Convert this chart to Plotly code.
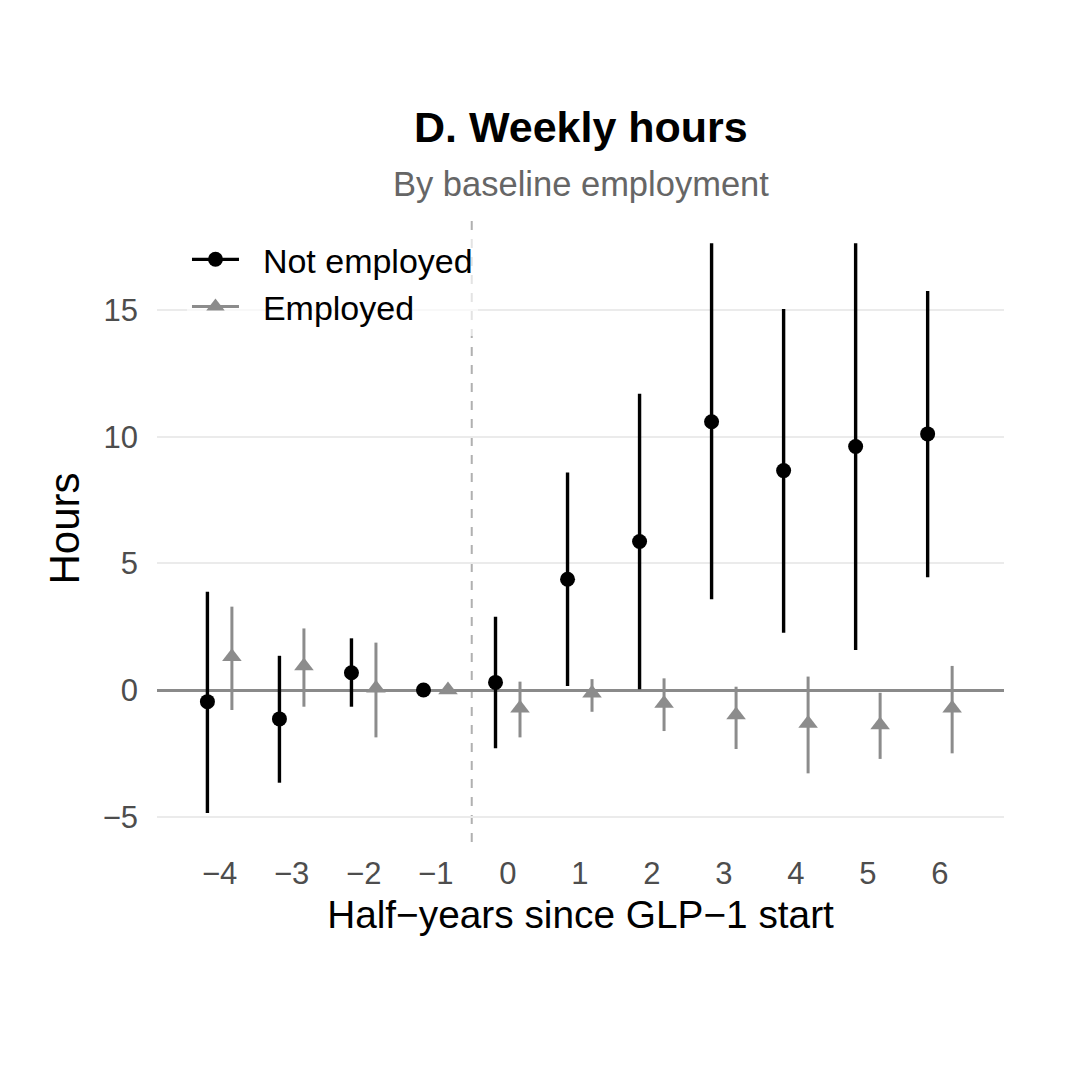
import numpy as np
import plotly.graph_objects as go

# Event-study estimates, weekly hours, by baseline employment
periods = [-4, -3, -2, -1, 0, 1, 2, 3, 4, 5, 6]

not_emp_est = [-0.46, -1.14, 0.68, 0.0, 0.30, 4.37, 5.86, 10.59, 8.66, 9.61, 10.11]
not_emp_lo = [-4.86, -3.66, -0.66, 0.0, -2.30, 0.16, 0.03, 3.58, 2.26, 1.58, 4.45]
not_emp_hi = [3.88, 1.35, 2.04, 0.0, 2.89, 8.59, 11.69, 17.63, 15.04, 17.63, 15.75]

emp_est = [1.31, 0.95, 0.07, 0.0, -0.72, -0.13, -0.53, -0.99, -1.32, -1.38, -0.72]
emp_lo = [-0.79, -0.66, -1.87, 0.0, -1.87, -0.86, -1.62, -2.33, -3.29, -2.72, -2.50]
emp_hi = [3.29, 2.43, 1.87, 0.0, 0.33, 0.43, 0.46, 0.13, 0.53, -0.11, 0.95]

y_ticks = [-5, 0, 5, 10, 15]

FONT = "Liberation Sans, Arial, sans-serif"
BLACK = "#000000"
GREY = "#8c8c8c"
DODGE = 0.17
NBSP = "\u00a0"

x = np.array(periods, dtype=float)


def err(est, lo, hi):
    est, lo, hi = np.array(est), np.array(lo), np.array(hi)
    return hi - est, est - lo


fig = go.Figure()

up, down = err(not_emp_est, not_emp_lo, not_emp_hi)
fig.add_trace(go.Scatter(
    x=x - DODGE, y=not_emp_est, mode="markers", showlegend=False,
    marker=dict(symbol="circle", size=15, color=BLACK),
    error_y=dict(type="data", symmetric=False, array=up, arrayminus=down,
                 color=BLACK, thickness=3.4, width=0),
))

up, down = err(emp_est, emp_lo, emp_hi)
fig.add_trace(go.Scatter(
    x=x + DODGE, y=emp_est, mode="markers", showlegend=False,
    marker=dict(symbol="triangle-up", size=17, color=GREY),
    error_y=dict(type="data", symmetric=False, array=up, arrayminus=down,
                 color=GREY, thickness=3, width=0),
))

# legend keys (line + point, like the original)
fig.add_trace(go.Scatter(
    x=[None], y=[None], mode="lines+markers", name=NBSP * 2 + "Not employed",
    line=dict(color=BLACK, width=3.3),
    marker=dict(symbol="circle", size=15, color=BLACK),
))
fig.add_trace(go.Scatter(
    x=[None], y=[None], mode="lines+markers", name=NBSP * 2 + "Employed",
    line=dict(color=GREY, width=3),
    marker=dict(symbol="triangle-up", size=17, color=GREY),
))

# treatment start
fig.add_shape(type="line", xref="x", yref="paper", x0=-0.5, x1=-0.5, y0=0, y1=1,
              layer="between", line=dict(color="#b0b0b0", width=2, dash="dash"))

fig.add_annotation(text="<b>D. Weekly hours</b>", xref="paper", yref="paper",
                   x=0.5, y=1.14, showarrow=False, yanchor="middle",
                   font=dict(family=FONT, size=43, color="#000000"))
fig.add_annotation(text="By baseline employment", xref="paper", yref="paper",
                   x=0.5, y=1.049, showarrow=False, yanchor="middle",
                   font=dict(family=FONT, size=34.5, color="#666666"))

# page body adds an 8px margin, so the figure is 8px smaller each way
fig.update_layout(
    width=1072, height=1063,
    margin=dict(l=149, r=76, t=207, b=229),
    paper_bgcolor="white", plot_bgcolor="white",
    font=dict(family=FONT, color="#000000"),
    legend=dict(x=0.0354, y=0.975, xanchor="left", yanchor="top",
                bgcolor="rgba(255,255,255,0.65)", borderwidth=0,
                font=dict(family=FONT, size=34, color="#000000"),
                itemwidth=47, tracegroupgap=0),
    xaxis=dict(
        range=[-4.87, 6.89], tickvals=periods,
        ticktext=[str(p).replace("-", "\u2212") for p in periods],
        showgrid=False, zeroline=False, showline=False, ticks="",
        ticklabelstandoff=10,
        tickfont=dict(family=FONT, size=31, color="#4d4d4d"),
        title=dict(text="Half\u2212years since GLP\u22121 start", standoff=10,
                   font=dict(family=FONT, size=38.8, color="#000000")),
    ),
    yaxis=dict(
        range=[-6.0, 18.75], tickvals=y_ticks,
        ticktext=[str(v).replace("-", "\u2212") for v in y_ticks],
        showgrid=True, gridcolor="#ebebeb", gridwidth=2,
        zeroline=True, zerolinecolor="#8a8a8a", zerolinewidth=2.5,
        showline=False, ticks="", ticklabelstandoff=18,
        tickfont=dict(family=FONT, size=31, color="#4d4d4d"),
        title=dict(text="Hours", standoff=9,
                   font=dict(family=FONT, size=42, color="#000000")),
    ),
)

fig.write_html("out.html")
